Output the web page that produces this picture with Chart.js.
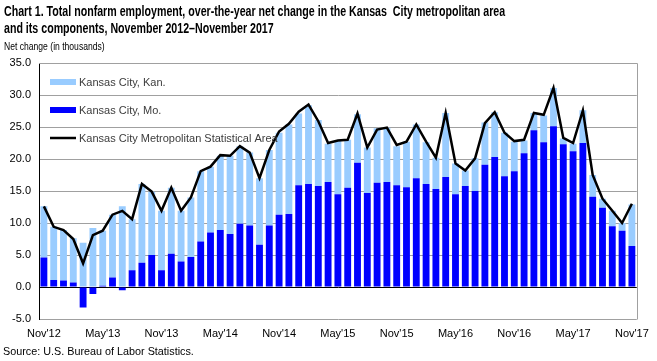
<!DOCTYPE html>
<html>
<head>
<meta charset="utf-8">
<script src="https://cdn.jsdelivr.net/npm/chart.js@4.4.0/dist/chart.umd.min.js"></script>
<style>
  html, body { margin: 0; padding: 0; background: #fff; }
  #wrap { position: relative; width: 657px; height: 361px; overflow: hidden; }
  #chart { position: absolute; left: 0; top: 0; }
  .txt { position: absolute; white-space: nowrap; color: #000; transform-origin: 0 0; }
  #title { left: 4px; top: 3px; font: bold 14px "Liberation Sans", Arial, sans-serif; line-height: 17px; transform: scaleX(0.76); }
  #unit { left: 4px; top: 40px; font: 11px "Liberation Sans", Arial, sans-serif; transform: scaleX(0.78); }
  #source { left: 3px; top: 345px; font: 10.8px "Liberation Sans", Arial, sans-serif; }
</style>
</head>
<body>
<div id="wrap">
  <canvas id="chart" width="657" height="361"></canvas>
  <div class="txt" id="title">Chart 1. Total nonfarm employment, over-the-year net change in the Kansas&nbsp; City metropolitan area<br>and its components, November 2012–November 2017</div>
  <div class="txt" id="unit">Net change (in thousands)</div>
  <div class="txt" id="source">Source: U.S. Bureau of Labor Statistics.</div>
</div>
<script>
// Months Nov 2012 - Nov 2017
const months = [
  "Nov'12", "Dec'12", "Jan'13", "Feb'13", "Mar'13", "Apr'13", "May'13", "Jun'13", "Jul'13", "Aug'13", "Sep'13", "Oct'13",
  "Nov'13", "Dec'13", "Jan'14", "Feb'14", "Mar'14", "Apr'14", "May'14", "Jun'14", "Jul'14", "Aug'14", "Sep'14", "Oct'14",
  "Nov'14", "Dec'14", "Jan'15", "Feb'15", "Mar'15", "Apr'15", "May'15", "Jun'15", "Jul'15", "Aug'15", "Sep'15", "Oct'15",
  "Nov'15", "Dec'15", "Jan'16", "Feb'16", "Mar'16", "Apr'16", "May'16", "Jun'16", "Jul'16", "Aug'16", "Sep'16", "Oct'16",
  "Nov'16", "Dec'16", "Jan'17", "Feb'17", "Mar'17", "Apr'17", "May'17", "Jun'17", "Jul'17", "Aug'17", "Sep'17", "Oct'17",
  "Nov'17"
];

// Kansas City, Kan.
const kansasCityKan = [
  8.0, 8.3, 7.9, 6.9, 6.9, 9.2, 8.6, 9.8, 12.6, 8.0, 12.3, 9.9,
  9.3, 10.3, 7.9, 9.3, 11.0, 10.3, 11.6, 12.2, 12.1, 11.4, 10.4, 11.8,
  12.8, 14.0, 11.2, 12.3, 10.3, 6.0, 8.3, 7.5, 7.6, 7.1, 8.5, 8.5,
  6.1, 7.1, 8.4, 6.5, 4.9, 10.0, 4.8, 2.4, 5.1, 6.6, 7.0, 6.8,
  4.6, 2.0, 2.7, 4.2, 6.0, 0.9, 1.2, 5.1, 3.4, 1.4, 2.4, 1.2,
  6.5
];

// Kansas City, Mo.
const kansasCityMo = [
  4.6, 1.1, 1.0, 0.7, -3.2, -1.1, 0.2, 1.5, -0.5, 2.6, 3.8, 5.0,
  2.6, 5.2, 4.0, 4.7, 7.1, 8.5, 8.9, 8.3, 9.9, 9.6, 6.6, 9.6,
  11.3, 11.4, 15.9, 16.1, 15.8, 16.4, 14.5, 15.5, 19.4, 14.7, 16.3, 16.4,
  15.9, 15.6, 17.0, 16.1, 15.3, 17.2, 14.5, 15.8, 15.0, 19.1, 20.3, 17.3,
  18.1, 20.9, 24.5, 22.6, 25.1, 22.3, 21.2, 22.5, 14.1, 12.4, 9.5, 8.8,
  6.4
];

// Kansas City Metropolitan Statistical Area
const kansasCityMsa = [
  12.6, 9.4, 8.9, 7.5, 3.7, 8.1, 8.8, 11.3, 11.9, 10.6, 16.1, 14.9,
  11.9, 15.5, 11.9, 14.0, 18.1, 18.8, 20.6, 20.5, 22.0, 21.0, 17.0, 21.4,
  24.3, 25.5, 27.4, 28.5, 25.9, 22.5, 22.9, 23.0, 27.1, 21.8, 24.6, 24.9,
  22.2, 22.7, 25.4, 22.7, 20.2, 27.2, 19.3, 18.2, 20.1, 25.6, 27.3, 24.1,
  22.8, 23.0, 27.2, 26.9, 31.1, 23.3, 22.5, 27.6, 17.5, 13.8, 11.9, 10.0,
  13.0
];

const yTicks = [-5, 0, 5, 10, 15, 20, 25, 30, 35];

const KAN_COLOR = "#99ccff";
const MO_COLOR = "#0000ff";
const LINE_COLOR = "#000000";

// Legend drawn inside the plot, plus the grey frame on top/right
const insideLegend = {
  id: "insideLegend",
  afterDraw(chart) {
    const ctx = chart.ctx;
    const area = chart.chartArea;
    ctx.save();
    ctx.strokeStyle = "#a0a0a0";
    ctx.lineWidth = 1;
    ctx.beginPath();
    ctx.moveTo(area.left, Math.round(area.top) + 0.5);
    ctx.lineTo(Math.round(area.right) + 0.5, Math.round(area.top) + 0.5);
    ctx.lineTo(Math.round(area.right) + 0.5, Math.round(area.bottom) + 0.5);
    ctx.stroke();

    const items = [
      { text: "Kansas City, Kan.", color: KAN_COLOR, type: "box" },
      { text: "Kansas City, Mo.", color: MO_COLOR, type: "box" },
      { text: "Kansas City Metropolitan Statistical Area", color: LINE_COLOR, type: "line" }
    ];
    ctx.font = "11px 'Liberation Sans', Arial, sans-serif";
    ctx.textBaseline = "middle";
    items.forEach((it, i) => {
      const y = 82 + i * 28;
      if (it.type === "box") {
        ctx.fillStyle = it.color;
        ctx.fillRect(50, y - 3, 26, 6);
      } else {
        ctx.strokeStyle = it.color;
        ctx.lineWidth = 2.5;
        ctx.beginPath();
        ctx.moveTo(50, y);
        ctx.lineTo(76, y);
        ctx.stroke();
      }
      ctx.fillStyle = "#3c3c3c";
      ctx.fillText(it.text, 79, y + 1);
    });
    ctx.restore();
  }
};

new Chart(document.getElementById("chart"), {
  type: "bar",
  data: {
    labels: months,
    datasets: [
      {
        label: "Kansas City Metropolitan Statistical Area",
        type: "line",
        data: kansasCityMsa,
        borderColor: LINE_COLOR,
        borderWidth: 2.5,
        pointRadius: 0,
        tension: 0,
        fill: false,
        stack: "msa",
        order: 0
      },
      {
        label: "Kansas City, Mo.",
        data: kansasCityMo,
        backgroundColor: MO_COLOR,
        stack: "components",
        order: 1
      },
      {
        label: "Kansas City, Kan.",
        data: kansasCityKan,
        backgroundColor: KAN_COLOR,
        stack: "components",
        order: 1
      }
    ]
  },
  options: {
    responsive: false,
    animation: false,
    devicePixelRatio: 1,
    layout: { padding: { top: 63, right: 20, bottom: 17, left: 0 } },
    datasets: {
      bar: { barPercentage: 0.7, categoryPercentage: 1.0 }
    },
    plugins: {
      legend: { display: false },
      tooltip: { enabled: false }
    },
    scales: {
      x: {
        stacked: true,
        grid: { display: false, drawTicks: false },
        border: { display: false },
        ticks: {
          autoSkip: false,
          maxRotation: 0,
          padding: 8,
          color: "#000",
          font: { family: "'Liberation Sans', Arial, sans-serif", size: 11 },
          callback: function (value, index) {
            return index % 6 === 0 ? months[index] : "";
          }
        },
        afterFit: function (scale) { scale.height = 25; }
      },
      y: {
        stacked: true,
        min: -5,
        max: 35,
        afterBuildTicks: function (scale) {
          scale.ticks = yTicks.map((v) => ({ value: v }));
        },
        grid: {
          drawTicks: false,
          color: function (c) { return c.tick && c.tick.value === 0 ? "#000" : "#a0a0a0"; },
          lineWidth: 1
        },
        border: { display: true, color: "#000", width: 1 },
        ticks: {
          padding: 8,
          color: "#000",
          font: { family: "'Liberation Sans', Arial, sans-serif", size: 11 },
          callback: function (v) { return v.toFixed(1); }
        },
        afterFit: function (scale) { scale.width = 39; }
      }
    }
  },
  plugins: [insideLegend]
});
</script>
</body>
</html>
